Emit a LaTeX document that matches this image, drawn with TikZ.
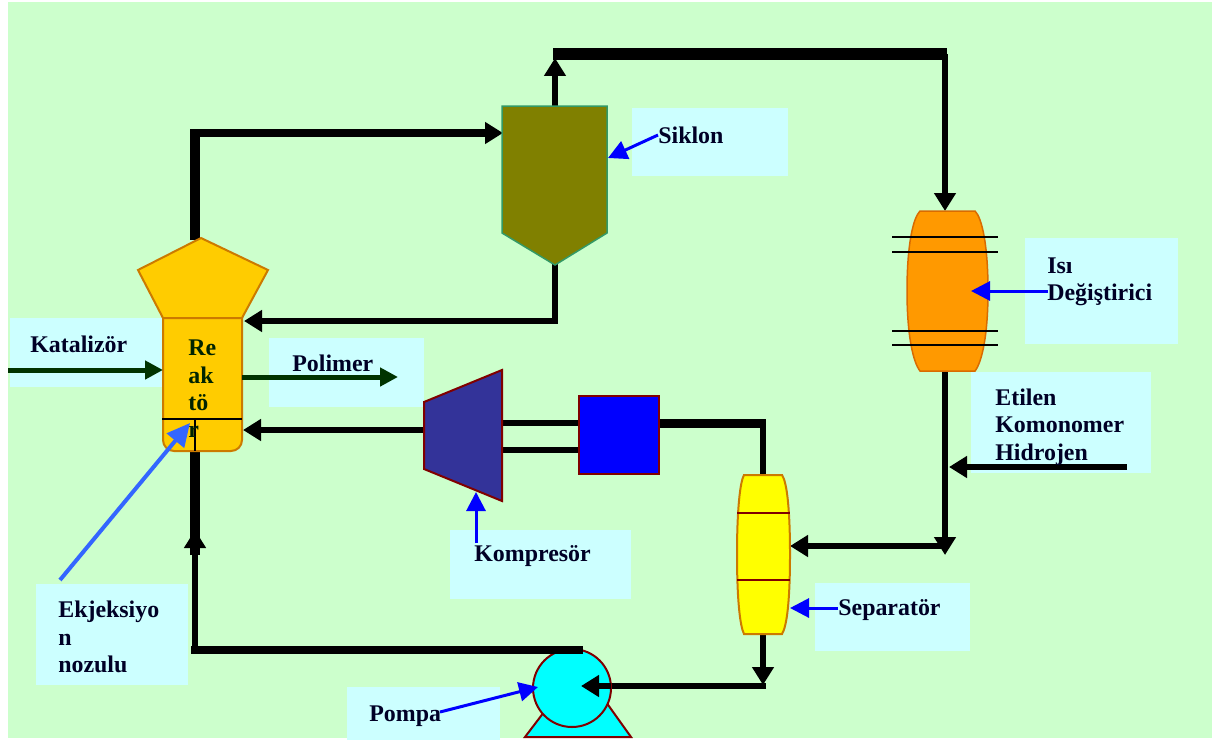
\documentclass[tikz,border=0pt]{standalone}
\usepackage{fontspec}
\setmainfont{Liberation Serif}
\usetikzlibrary{arrows.meta}

\definecolor{bggreen}{HTML}{CCFFCC}
\definecolor{lblcyan}{HTML}{CCFFFF}
\definecolor{edgered}{HTML}{800000}
\definecolor{darkfeed}{HTML}{003300}
\definecolor{reactorgold}{HTML}{FFCC00}
\definecolor{hxorange}{HTML}{FF9900}
\definecolor{compblue}{HTML}{333399}
\definecolor{nozzleblue}{HTML}{3366FF}
\definecolor{siklonolive}{HTML}{808000}
\definecolor{siklonedge}{HTML}{339966}
\definecolor{pumpcyan}{HTML}{00FFFF}
\definecolor{sepyellow}{HTML}{FFFF00}
\definecolor{coolblue}{HTML}{0000FF}

\tikzset{
    lbl/.style={anchor=west, inner sep=0pt, align=left, font=\bfseries\fontsize{13.6}{15.6}\selectfont, text=black!85!blue},
    lblbox/.style={fill=lblcyan},
    unit/.style={draw=edgered, line width=0.4mm},
    pipe/.style={draw=black, line width=1.2mm},
    pipemid/.style={draw=black, line width=1.45mm},
    pipewide/.style={draw=black, line width=1.8mm},
    pipethin/.style={draw=black, line width=1.05mm},
    headblack/.style={-{Triangle[length=3.6mm, width=4.2mm]}},
    feed/.style={draw=darkfeed, line width=1mm, -{Triangle[length=3.6mm, width=3.6mm]}},
    pointer/.style={draw=coolblue, line width=0.6mm, -{Triangle[length=3.8mm, width=3.8mm]}}
}

\begin{document}
\begin{tikzpicture}[x=0.02cm, y=-0.02cm]
    \useasboundingbox (0, 0) rectangle (1212, 740);
    \fill [bggreen] (8, 2) rectangle (1212, 738);

    % label boxes
    \fill [lblbox] (10, 318) rectangle (163, 387);
    \fill [lblbox] (269, 338) rectangle (424, 407);
    \fill [lblbox] (632, 108) rectangle (788, 176);
    \fill [lblbox] (1025, 238) rectangle (1178, 344);
    \fill [lblbox] (971, 372) rectangle (1151, 473);
    \fill [lblbox] (450, 530) rectangle (631, 599);
    \fill [lblbox] (815, 583) rectangle (970, 651);
    \fill [lblbox] (347, 687) rectangle (500, 740);
    \fill [lblbox] (36, 584) rectangle (188, 685);

    % pipe ends
    \coordinate (reactortop) at (195, 240);
    \coordinate (reactorknee) at (195, 129);
    \coordinate (siklonstart) at (190, 133);
    \coordinate (siklonin) at (503, 133);
    \coordinate (siklontop) at (555, 107);
    \coordinate (siklonup) at (555, 58);
    \coordinate (headstart) at (553, 54);
    \coordinate (headknee) at (947, 54);
    \coordinate (hxstart) at (945, 54);
    \coordinate (hxtop) at (945, 211);
    \coordinate (hxbottom) at (945, 371);
    \coordinate (hxdown) at (945, 555);
    \coordinate (sepfeed) at (945, 546);
    \coordinate (sepin) at (790, 546);
    \coordinate (siklonbottom) at (555, 262);
    \coordinate (siklonknee) at (555, 321);
    \coordinate (reactorreturn) at (244, 321);
    \coordinate (compout) at (424, 430);
    \coordinate (reactorgas) at (243, 430);
    \coordinate (compa) at (500, 423);
    \coordinate (compb) at (500, 450);
    \coordinate (coolera) at (579, 423);
    \coordinate (coolerb) at (579, 450);
    \coordinate (coolerout) at (659, 423);
    \coordinate (coolerknee) at (766, 423);
    \coordinate (coolerdrop) at (763, 423);
    \coordinate (septop) at (763, 475);
    \coordinate (sepbottom) at (763, 634);
    \coordinate (sepdown) at (763, 685);
    \coordinate (pumpfeed) at (766, 686);
    \coordinate (pumpedge) at (611, 686);
    \coordinate (pumpin) at (581, 686);
    \coordinate (pumpout) at (583, 650);
    \coordinate (pumpknee) at (191, 650);
    \coordinate (risestart) at (195, 650);
    \coordinate (reactorup) at (195, 530);
    \coordinate (risetop) at (195, 555);
    \coordinate (reactorbottom) at (195, 451);
    \coordinate (feedstart) at (1127, 467);
    \coordinate (feedend) at (949, 467);

    % main pipes
    \draw [pipewide, line width=1.9mm] (reactortop) -- (reactorknee);
    \draw [pipemid, headblack] (siklonstart) -- (siklonin);
    \draw [pipe, headblack] (siklontop) -- (siklonup);
    \draw [pipewide, line width=2.3mm] (headstart) -- (headknee);
    \draw [pipe, headblack] (hxstart) -- (hxtop);
    \draw [pipe, headblack] (hxbottom) -- (hxdown);
    \draw [pipe, headblack] (sepfeed) -- (sepin);
    \draw [pipe, headblack] (siklonbottom) -- (siklonknee) -- (reactorreturn);
    \draw [pipethin, headblack] (compout) -- (reactorgas);
    \draw [pipethin] (compa) -- (coolera);
    \draw [pipethin] (compb) -- (coolerb);
    \draw [pipewide] (coolerout) -- (coolerknee);
    \draw [pipethin] (coolerdrop) -- (septop);
    \draw [pipethin, headblack] (sepbottom) -- (sepdown);
    \draw [pipethin, headblack] (pumpfeed) -- (pumpin);
    \draw [pipe, headblack] (risestart) -- (reactorup);
    \draw [pipewide, line width=2mm] (risetop) -- (reactorbottom);
    \draw [pipethin, headblack] (feedstart) -- (feedend);

    % reactor
    \draw [unit, fill=reactorgold, draw=reactorgold!60!edgered] (138, 270) -- (201, 238) -- (268, 270) -- (242, 318) -- (163, 318) -- cycle;
    \draw [unit, fill=reactorgold, draw=reactorgold!60!edgered] (163, 318) -- (242, 318) -- (242, 440) arc [start angle=0, end angle=90, radius=11] -- (174, 451) arc [start angle=90, end angle=180, radius=11] -- cycle;
    \draw [line width=0.3mm] (162, 419) -- (242, 419);
    \draw [line width=0.3mm] (195, 419) -- (195, 451);
    \node [lbl, text=darkfeed!70!black] (reactortext) at (188, 389) {Re\\ak\\tö\\r};

    % siklon
    \draw [fill=siklonolive, draw=siklonedge, line width=0.3mm] (502, 106) -- (607, 106) -- (607, 233) -- (555, 265) -- (502, 233) -- cycle;

    % heat exchanger
    \draw [line width=0.3mm, draw=hxorange!70!edgered, fill=hxorange] (920, 211) -- (975, 211) .. controls (982, 218) and (988, 245) .. (988, 291) .. controls (988, 335) and (982, 362) .. (975, 371) -- (920, 371) .. controls (913, 362) and (907, 335) .. (907, 291) .. controls (907, 245) and (913, 218) .. (920, 211) -- cycle;
    \foreach \yline in {237, 252, 331, 345} {
        \draw [line width=0.3mm] (892, \yline) -- (998, \yline);
    }

    % compressor, cooler
    \draw [unit, fill=compblue] (424, 402) -- (502, 370) -- (502, 501) -- (424, 469) -- cycle;
    \draw [unit, fill=coolblue] (579, 396) rectangle (659, 474);

    % separator
    \draw [line width=0.4mm, draw=reactorgold!60!edgered, fill=sepyellow] (744, 475) -- (782, 475) .. controls (787, 482) and (790, 510) .. (790, 554) .. controls (790, 600) and (787, 626) .. (782, 634) -- (744, 634) .. controls (740, 626) and (737, 600) .. (737, 554) .. controls (737, 510) and (740, 482) .. (744, 475) -- cycle;
    \draw [line width=0.3mm, draw=edgered] (737, 513) -- (790, 513);
    \draw [line width=0.3mm, draw=edgered] (737, 580) -- (790, 580);

    % pump
    \draw [unit, fill=pumpcyan] (525, 737) -- (544, 712) -- (606, 702) -- (631, 737) -- cycle;
    \draw [unit, fill=pumpcyan] (572, 688) circle [radius=39];
    \draw [pipewide, line width=1.75mm] (pumpout) -- (pumpknee);
    \draw [pipethin, headblack] (pumpedge) -- (pumpin);

    % labels
    \node [lbl] (katalizor) at (30, 344) {Katalizör};
    \node [lbl] (polimer) at (292, 363) {Polimer};
    \node [lbl] (siklon) at (658, 135) {Siklon};
    \node [lbl] (isi) at (1047, 282) {Isı\\Değiştirici};
    \node [lbl] (etilen) at (995, 427) {Etilen\\Komonomer\\Hidrojen};
    \node [lbl] (kompresor) at (474, 556) {Kompresör};
    \node [lbl] (separator) at (838, 610) {Separatör};
    \node [lbl] (pompa) at (369, 716) {Pompa};
    \node [lbl] (ekjeksiyon) at (58, 637) {Ekjeksiyo\\n\\nozulu};

    % feed and pointer arrows
    \coordinate (katalizorstart) at (8, 370);
    \coordinate (reactorleft) at (163, 370);
    \coordinate (reactorright) at (242, 377);
    \coordinate (polimerend) at (398, 377);
    \coordinate (siklonside) at (608, 158);
    \coordinate (isistart) at (1048, 291);
    \coordinate (hxcentre) at (971, 291);
    \coordinate (kompstart) at (476, 543);
    \coordinate (compbottom) at (476, 492);
    \coordinate (sepstart) at (838, 608);
    \coordinate (sepside) at (790, 608);
    \coordinate (pompastart) at (440, 712);
    \coordinate (pumpside) at (538, 687);
    \coordinate (nozzlestart) at (60, 580);
    \coordinate (nozzle) at (190, 423);
    \draw [feed] (katalizorstart) -- (reactorleft);
    \draw [feed] (reactorright) -- (polimerend);
    \draw [pointer] (siklon.west) -- (siklonside);
    \draw [pointer] (isistart) -- (hxcentre);
    \draw [pointer] (kompstart) -- (compbottom);
    \draw [pointer] (sepstart) -- (sepside);
    \draw [pointer] (pompastart) -- (pumpside);
    \draw [pointer, draw=nozzleblue, line width=0.8mm, -{Triangle[length=4.6mm, width=4.4mm]}] (nozzlestart) -- (nozzle);
\end{tikzpicture}
\end{document}
